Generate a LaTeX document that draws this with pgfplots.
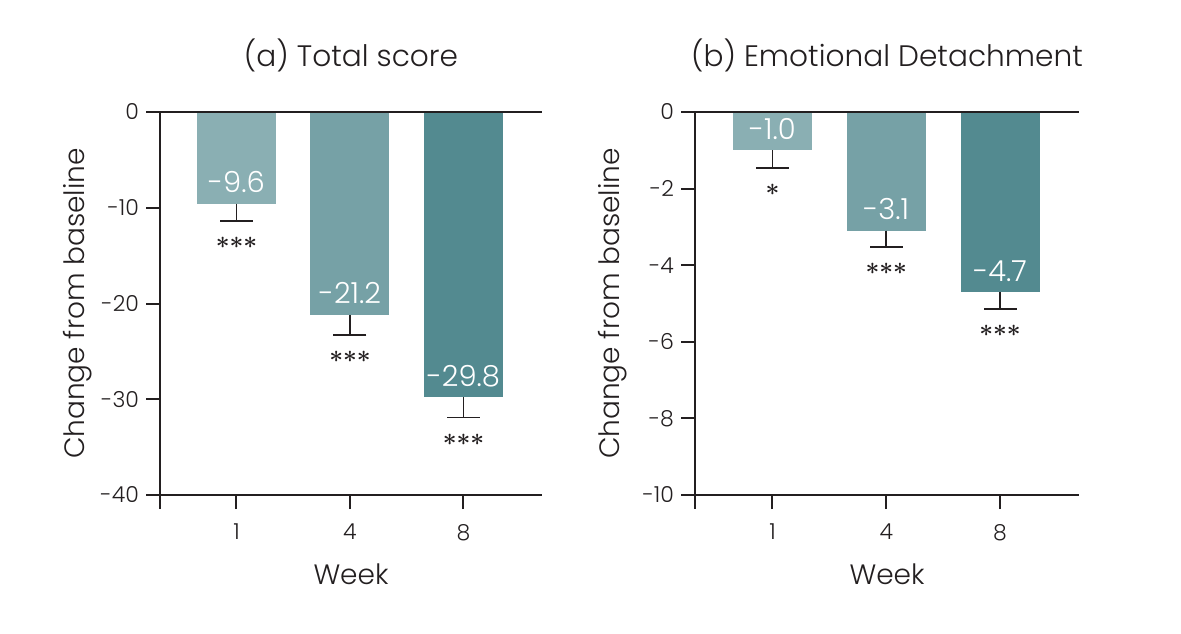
\documentclass[border=0pt]{standalone}
\usepackage{pgfplots}
\pgfplotsset{compat=1.18}
\usepackage{fontspec}
\setmainfont{Poppins Light}
\definecolor{ca}{HTML}{8AAFB3}
\definecolor{cb}{HTML}{76A1A6}
\definecolor{cc}{HTML}{538A90}
\definecolor{ink}{HTML}{231F20}
\newcommand\stars[1]{\ifnum#1=3 ${\ast}{\ast}{\ast}$\else ${\ast}$\fi}
\pgfplotsset{
  panel/.style={
    scale only axis, height=191.5pt, anchor=south west, clip=false,
    axis x line=bottom, axis y line=left,
    axis line style={draw=none},
    tick align=outside, major tick length=7pt,
    tick style={ink, line width=1pt},
    ymax=0,
    xtick={1,2,3}, xticklabels={1,4,8},
    ticklabel style={font=\fontsize{11}{13}\selectfont, text=ink},
    yticklabel style={anchor=east},
    xticklabel style={yshift=-4pt},
    label style={font=\fontsize{14}{17}\selectfont, text=ink},
    title style={font=\fontsize{14.8}{18}\selectfont, text=ink, at={(axis description cs:0.5,1)}, anchor=center, yshift=22.5pt},
    xlabel style={at={(axis description cs:0.5,0)}, anchor=center, yshift=-39.5pt},
    ylabel style={at={([xshift=-41pt]axis description cs:0,0.5)}, anchor=center},
    xlabel={Week}, ylabel={Change from baseline},
  },
  bars/.style={ybar, bar width=39.5pt, bar shift=0pt, fill=#1, draw=none,
    nodes near coords, point meta=explicit symbolic,
    nodes near coords style={font=\fontsize{14.5}{17}\selectfont, text=white, anchor=base, yshift=5.5pt, inner sep=0pt},
    error bars/.cd, y dir=minus, y explicit,
    error bar style={ink, line width=0.9pt},
    error mark options={ink, line width=0.9pt, mark size=8.25pt, rotate=90}},
  stars/.style={draw=none, mark=none, nodes near coords={\stars{\pgfplotspointmeta}}, point meta=explicit symbolic,
    nodes near coords style={anchor=center, yshift=-11pt, text=ink, font=\boldmath\fontsize{12.5}{14}\selectfont}},
}
\newcommand\axframe{%
  \draw[ink, line width=1pt] ([xshift=-7pt]rel axis cs:0,1) -- (rel axis cs:1,1);
  \draw[ink, line width=1pt] ([xshift=-7pt]rel axis cs:0,0) -- (rel axis cs:1,0);
  \draw[ink, line width=1pt] (rel axis cs:0,1) -- ([yshift=-7pt]rel axis cs:0,0);}
\begin{document}
\begin{tikzpicture}
\path[use as bounding box] (0,0) rectangle (590.5pt,316.5pt);
\begin{axis}[panel, at={(80pt,69pt)}, width=191pt, xmin=0.326, xmax=3.692,
  ymin=-40, ytick={-40,-30,-20,-10,0}, yticklabels={-40,-30,-20,-10,0},
  title={(a) Total score}]
\addplot[bars=ca] table[x=x, y=y, y error minus=e, meta=lab, row sep=\\] {x y e lab\\ 1 -9.6 1.8 -9.6\\};
\addplot[bars=cb] table[x=x, y=y, y error minus=e, meta=lab, row sep=\\] {x y e lab\\ 2 -21.2 2.1 -21.2\\};
\addplot[bars=cc] table[x=x, y=y, y error minus=e, meta=lab, row sep=\\] {x y e lab\\ 3 -29.8 2.1 -29.8\\};
\addplot[stars] table[x=x, y=y, meta=s, row sep=\\] {x y s\\ 1 -11.4 3\\ 2 -23.3 3\\ 3 -31.9 3\\};
\axframe
\end{axis}
\begin{axis}[panel, at={(347.5pt,69pt)}, width=192pt, xmin=0.319, xmax=3.694,
  ymin=-10, ytick={-10,-8,-6,-4,-2,0}, yticklabels={-10,-8,-6,-4,-2,0},
  title={(b) Emotional Detachment}]
\addplot[bars=ca] table[x=x, y=y, y error minus=e, meta=lab, row sep=\\] {x y e lab\\ 1 -1.0 0.46 -1.0\\};
\addplot[bars=cb] table[x=x, y=y, y error minus=e, meta=lab, row sep=\\] {x y e lab\\ 2 -3.1 0.42 -3.1\\};
\addplot[bars=cc] table[x=x, y=y, y error minus=e, meta=lab, row sep=\\] {x y e lab\\ 3 -4.7 0.45 -4.7\\};
\addplot[stars] table[x=x, y=y, meta=s, row sep=\\] {x y s\\ 1 -1.46 1\\ 2 -3.52 3\\ 3 -5.15 3\\};
\axframe
\end{axis}
\end{tikzpicture}
\end{document}
